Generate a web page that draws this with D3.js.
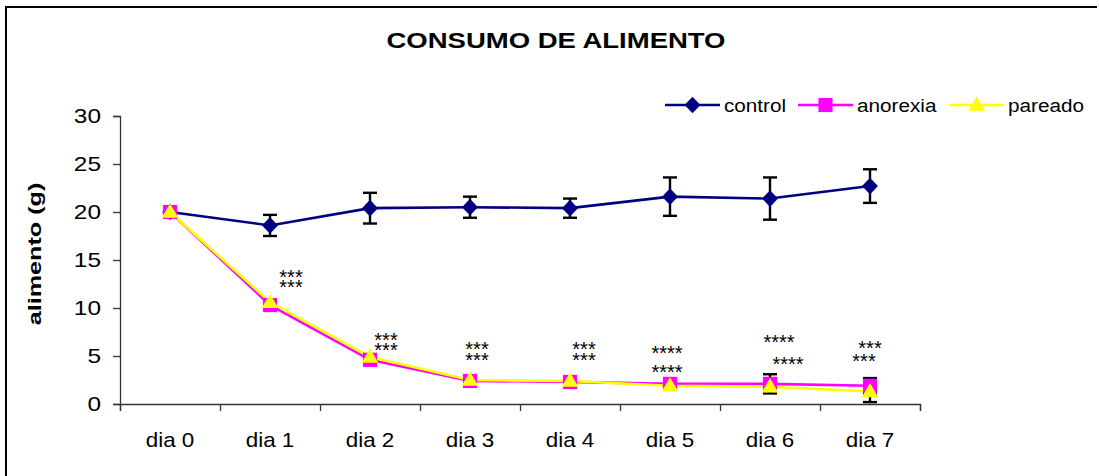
<!DOCTYPE html>
<html>
<head>
<meta charset="utf-8">
<script src="https://cdn.jsdelivr.net/npm/d3@7"></script>
<style>
  body { margin: 0; background: #fff; }
  text { font-family: "Liberation Sans", Arial, sans-serif; fill: #000; }
</style>
</head>
<body>
<div id="viz"></div>
<script>
var width = 1099
var height = 476

// data
var days = ["dia 0", "dia 1", "dia 2", "dia 3", "dia 4", "dia 5", "dia 6", "dia 7"];
var yTicks = [0, 5, 10, 15, 20, 25, 30];
var control = [20, 18.6, 20.4, 20.5, 20.4, 21.6, 21.4, 22.7];
var controlErr = [0, 1.1, 1.6, 1.1, 1.0, 2.0, 2.2, 1.75];
var anorexia = [20, 10.3, 4.6, 2.4, 2.3, 2.1, 2.1, 1.9];
var anorexiaErr = [0, 0.3, 0.3, 0.3, 0.3, 0.3, 1.0, 0.8];
var pareado = [20, 10.6, 4.9, 2.5, 2.4, 1.9, 1.8, 1.3];
var pareadoErr = [0, 0.3, 0.3, 0.2, 0.2, 0.2, 0.4, 1.1];

// significance marks, two lines per day: (day position, value) for each line
var starTop = ["***", "***", "***", "***", "****", "****", "***"];
var starBot = ["***", "***", "***", "***", "****", "****", "***"];
var starDayTop = [1.21, 2.16, 3.07, 4.14, 4.97, 6.09, 7.0];
var starDayBot = [1.21, 2.16, 3.07, 4.14, 4.97, 6.18, 6.94];
var starValTop = [13.6, 7.1, 6.1, 6.1, 5.7, 6.9, 6.25];
var starValBot = [12.6, 6.0, 5.0, 5.0, 3.75, 4.6, 4.9];

var svg = d3.select("#viz")
    .append("svg")
    .attr("width", width)
    .attr("height", height);

var x = d3.scaleLinear().domain([-0.5, 7.5]).range([120, 920]);
var y = d3.scaleLinear().domain([0, 30]).range([404, 116]);

// stretched text (the picture has wide lettering)
function stext(g, tx, ty, str, size, sx, anchor, weight) {
    return g.append("text")
        .attr("transform", "translate(" + tx + "," + ty + ") scale(" + sx + ",1)")
        .attr("text-anchor", anchor || "start")
        .attr("font-size", size)
        .attr("font-weight", weight || "normal")
        .text(str);
}

// frame
svg.append("path")
    .attr("d", "M6,476 V7 H1097")
    .attr("fill", "none")
    .attr("stroke", "#000")
    .attr("stroke-width", 2);

// title
stext(svg, 556, 48, "CONSUMO DE ALIMENTO", 22, 1.25, "middle", "bold");

// axes
var yAxis = svg.append("g")
    .attr("transform", "translate(120,0)")
    .call(d3.axisLeft(y).tickValues(yTicks).tickSize(7).tickFormat(""));
var xAxis = svg.append("g")
    .attr("transform", "translate(0,404)")
    .call(d3.axisBottom(x).tickValues(d3.range(-0.5, 8, 1)).tickSize(7).tickFormat(""));
[yAxis, xAxis].forEach(function (a) {
    a.select(".domain").attr("stroke", "#333").attr("stroke-width", 1.3);
    a.selectAll(".tick line").attr("stroke", "#333").attr("stroke-width", 1.3);
});

yTicks.forEach(function (t) {
    stext(svg, 101, y(t) + 7, t, 20, 1.22, "end");
});
days.forEach(function (d, i) {
    stext(svg, x(i), 447, d, 20, 1.12, "middle");
});

svg.append("text")
    .attr("transform", "translate(41,254) rotate(-90) scale(1.4,1)")
    .attr("text-anchor", "middle")
    .attr("font-size", 18)
    .attr("font-weight", "bold")
    .text("alimento (g)");

// series
var series = [
    { name: "control", values: control, err: controlErr, color: "#000080", shape: "diamond" },
    { name: "anorexia", values: anorexia, err: anorexiaErr, color: "#FF00FF", shape: "square" },
    { name: "pareado", values: pareado, err: pareadoErr, color: "#FFFF00", shape: "triangle" }
];

function marker(g, s) {
    if (s.shape == "diamond") {
        return g.append("path")
            .attr("d", d3.symbol().type(d3.symbolSquare).size(140)())
            .attr("transform-origin", "0 0")
            .attr("fill", s.color)
            .attr("style", "transform: scale(0.95,1) rotate(45deg)");
    } else if (s.shape == "square") {
        return g.append("path")
            .attr("d", d3.symbol().type(d3.symbolSquare).size(200)())
            .attr("fill", s.color);
    }
    return g.append("path")
        .attr("transform", "translate(0,1)")
        .attr("d", d3.symbol().type(d3.symbolTriangle).size(120)())
        .attr("fill", s.color);
}

var line = d3.line()
    .x(function (d, i) { return x(i); })
    .y(function (d) { return y(d); });

series.forEach(function (s) {
    svg.append("path")
        .datum(s.values)
        .attr("fill", "none")
        .attr("stroke", s.color)
        .attr("stroke-width", 2.6)
        .attr("d", line);
});

// error bars
series.forEach(function (s) {
    var g = svg.append("g").attr("stroke", "#000").attr("stroke-width", 2.4);
    s.values.forEach(function (v, i) {
        if (!s.err[i]) return;
        var top = y(v + s.err[i]), bot = y(v - s.err[i]);
        g.append("line").attr("x1", x(i)).attr("x2", x(i)).attr("y1", top).attr("y2", bot);
        g.append("line").attr("x1", x(i) - 7).attr("x2", x(i) + 7).attr("y1", top).attr("y2", top);
        g.append("line").attr("x1", x(i) - 7).attr("x2", x(i) + 7).attr("y1", bot).attr("y2", bot);
    });
});

// markers
series.forEach(function (s) {
    s.values.forEach(function (v, i) {
        var g = svg.append("g").attr("transform", "translate(" + x(i) + "," + y(v) + ")");
        marker(g, s);
    });
});

// significance stars
starTop.forEach(function (t, i) {
    var txt = svg.append("text")
        .attr("font-size", 20)
        .attr("text-anchor", "middle");
    txt.append("tspan")
        .attr("x", x(starDayTop[i]))
        .attr("y", y(starValTop[i]) + 11)
        .text(t);
    txt.append("tspan")
        .attr("x", x(starDayBot[i]))
        .attr("y", y(starValBot[i]) + 11)
        .text(starBot[i]);
});

// legend
var legX = [665, 798, 949];
series.forEach(function (s, i) {
    var g = svg.append("g").attr("transform", "translate(" + legX[i] + ",105)");
    g.append("line").attr("x1", 0).attr("x2", 55).attr("stroke", s.color).attr("stroke-width", 2.6);
    marker(g.append("g").attr("transform", "translate(27.5,0)"), s);
    stext(g, 59, 7, s.name, 19, 1.09, "start");
});
</script>
</body>
</html>
